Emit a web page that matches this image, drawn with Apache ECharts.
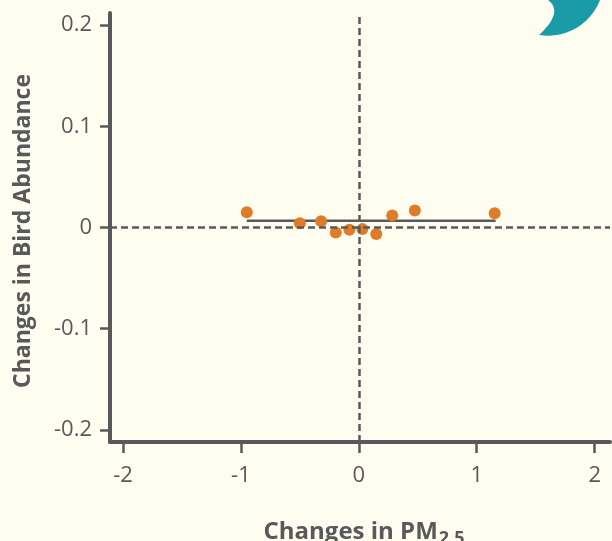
<!DOCTYPE html>
<html>
<head>
<meta charset="utf-8">
<script src="https://cdn.jsdelivr.net/npm/echarts@6/dist/echarts.min.js"></script>
<style>
html,body{margin:0;padding:0;background:#FFFDEF;}
#c{width:612px;height:541px;}
</style>
</head>
<body>
<div id="c"></div>
<script>
// Data
const pmChange   = [-0.95, -0.50, -0.32, -0.195, -0.08, 0.03, 0.148, 0.283, 0.475, 1.152];
const birdChange = [0.0151, 0.0043, 0.0063, -0.0049, -0.0023, -0.0016, -0.0065, 0.0118, 0.0167, 0.0141];
const fitX = [-0.95, 1.16];
const fitY = [0.0066, 0.0066];
const xTicks = [-2, -1, 0, 1, 2];
const yTicks = [-0.2, -0.1, 0, 0.1, 0.2];
const xTitle = 'Changes in PM';
const xTitleSub = '2.5';
const yTitle = 'Changes in Bird Abundance';

const axisColor = '#58595b';
const font = '"Open Sans", "Noto Sans", sans-serif';

// decorative crescent (logo fragment, top-right corner)
function crescentPoints() {
  const pts = [];
  const cx = 548, cy = -20, r = 55.7;
  const a0 = Math.atan2(0 - cy, 601 - cx), a1 = Math.atan2(35 - cy, 539 - cx);
  pts.push([548, -1], [601, -1]);
  for (let i = 0; i <= 30; i++) {
    const a = a0 + (a1 - a0) * i / 30;
    pts.push([cx + r * Math.cos(a), cy + r * Math.sin(a)]);
  }
  const p0 = [539, 35], c = [564, 12], p2 = [548, 0];
  for (let i = 1; i <= 20; i++) {
    const t = i / 20, u = 1 - t;
    pts.push([u*u*p0[0] + 2*u*t*c[0] + t*t*p2[0], u*u*p0[1] + 2*u*t*c[1] + t*t*p2[1]]);
  }
  return pts;
}

const chart = echarts.init(document.getElementById('c'), null, {renderer: 'canvas'});
const points = pmChange.map((x, i) => [x, birdChange[i]]);
const fit = fitX.map((x, i) => [x, fitY[i]]);

chart.setOption({
  backgroundColor: '#FFFDEF',
  animation: false,
  grid: {left: 110, right: 2, top: 13, bottom: 99, containLabel: false},
  xAxis: {
    type: 'value', min: -2.11, max: 2.13,
    splitLine: {show: false},
    axisLine: {show: true, onZero: false, lineStyle: {color: axisColor, width: 4}},
    axisTick: {show: true, customValues: xTicks, length: 11, lineStyle: {color: axisColor, width: 2.5}},
    axisLabel: {customValues: xTicks, color: axisColor, fontSize: 22, fontFamily: font, margin: 23,
      formatter: v => String(v)}
  },
  yAxis: {
    type: 'value', min: -0.212, max: 0.212,
    splitLine: {show: false},
    axisLine: {show: true, onZero: false, lineStyle: {color: axisColor, width: 4}},
    axisTick: {show: true, customValues: yTicks, length: 10, lineStyle: {color: axisColor, width: 2.5}},
    axisLabel: {customValues: yTicks, color: axisColor, fontSize: 22, fontFamily: font, margin: 18,
      formatter: v => (Math.abs(v) < 1e-9 ? '0' : String(Math.round(v * 10) / 10))}
  },
  series: [
    {
      type: 'line', data: fit, symbol: 'none', silent: true, z: 2,
      lineStyle: {color: axisColor, width: 2.5},
      markLine: {
        silent: true, symbol: 'none', label: {show: false},
        lineStyle: {color: axisColor, width: 2.5, type: [7, 4]},
        data: [{xAxis: 0}, {yAxis: 0}]
      }
    },
    {
      type: 'scatter', data: points, symbolSize: 12, z: 3,
      itemStyle: {color: '#e07b27', opacity: 1}
    }
  ],
  graphic: [
    {
      type: 'text', x: 23, y: 231, rotation: Math.PI / 2,
      style: {
        text: yTitle, fill: axisColor, font: 'bold 23px ' + font,
        align: 'center', verticalAlign: 'middle'
      }
    },
    {
      type: 'text', x: 364, y: 532,
      style: {
        text: '{a|' + xTitle + '}{s|' + xTitleSub + '}',
        align: 'center', verticalAlign: 'middle',
        rich: {
          a: {fill: axisColor, font: 'bold 24px ' + font},
          s: {fill: axisColor, font: 'bold 18px ' + font, padding: [14, 0, 0, 1]}
        }
      }
    },
    {
      type: 'polygon', silent: true,
      shape: {points: crescentPoints()},
      style: {fill: '#1a9ba6'}
    }
  ]
});
</script>
</body>
</html>
